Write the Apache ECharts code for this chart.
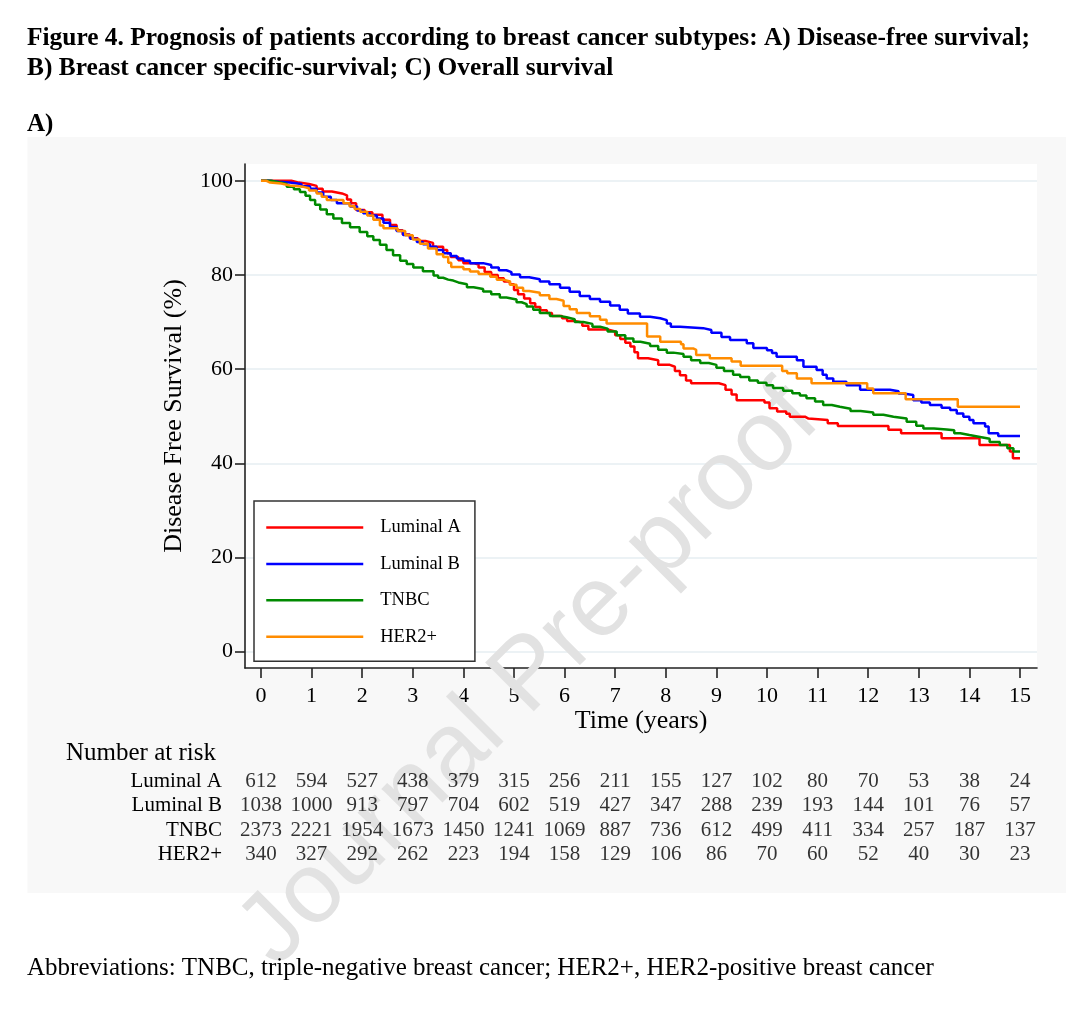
<!DOCTYPE html>
<html>
<head>
<meta charset="utf-8">
<title>Figure 4 - Disease-free survival</title>
<script src="https://cdn.jsdelivr.net/npm/echarts@6/dist/echarts.min.js"></script>
<style>
  html, body { margin: 0; padding: 0; background: #fff; }
  #chart { width: 1080px; height: 1021px; }
</style>
</head>
<body>
<div id="chart"></div>
<script>
// 坐标轴刻度
const xTicks = [0, 1, 2, 3, 4, 5, 6, 7, 8, 9, 10, 11, 12, 13, 14, 15]
const yTicks = [0, 20, 40, 60, 80, 100]

const groups = ['Luminal A', 'Luminal B', 'TNBC', 'HER2+']

// KM曲线 [时间(年), 生存率%]
const luminalA = [
  [0, 100], [0.5, 100], [0.6, 99.6], [0.75, 99.3], [0.95, 98.9], [1.1, 98.3], [1.22, 97.7], [1.4, 97.3],
  [1.6, 96.9], [1.7, 96.0], [1.78, 95.2], [1.88, 93.8], [2.05, 93.3], [2.2, 92.8], [2.4, 91.7], [2.55, 90.6],
  [2.68, 89.5], [2.8, 88.6], [2.94, 87.8], [3.1, 87.2], [3.25, 86.8], [3.4, 86.0], [3.6, 85.3], [3.68, 84.6],
  [3.75, 83.8], [3.9, 83.1], [4.0, 82.5], [4.2, 82.2], [4.3, 81.6], [4.42, 80.6], [4.55, 80.0], [4.68, 79.3],
  [4.8, 78.6], [4.92, 78.0], [5.0, 76.8], [5.08, 75.9], [5.2, 75.0], [5.32, 74.0], [5.42, 73.2], [5.52, 72.5],
  [5.65, 71.9], [5.75, 71.3], [5.95, 70.8], [6.05, 70.2], [6.2, 69.9], [6.35, 69.2], [6.47, 68.4], [6.85, 68.0],
  [7.0, 67.2], [7.1, 66.4], [7.2, 65.6], [7.3, 64.8], [7.38, 63.6], [7.45, 62.3], [7.65, 61.9], [7.85, 60.9],
  [8.08, 60.5], [8.18, 59.6], [8.28, 58.7], [8.4, 57.6], [8.5, 57.0], [9.05, 56.6], [9.18, 55.6], [9.3, 54.6],
  [9.4, 53.4], [9.95, 52.9], [10.05, 51.7], [10.2, 51.0], [10.38, 50.5], [10.45, 49.9], [10.75, 49.5],
  [10.82, 49.2], [11.2, 48.5], [11.4, 47.9], [12.4, 47.1], [12.65, 46.4], [13.45, 45.3], [14.2, 43.9],
  [14.8, 42.5], [14.86, 41.1], [15, 41.1]
]
const luminalB = [
  [0, 100], [0.15, 99.8], [0.35, 99.6], [0.57, 99.3], [0.8, 98.8], [0.97, 98.3], [1.1, 97.5], [1.23, 96.6],
  [1.38, 95.9], [1.5, 95.2], [1.76, 94.5], [1.9, 93.7], [2.02, 93.1], [2.15, 92.6], [2.29, 92.0], [2.42, 91.1],
  [2.55, 90.2], [2.68, 89.3], [2.81, 88.5], [2.95, 87.7], [3.08, 87.0], [3.2, 86.5], [3.34, 86.0], [3.47, 85.3],
  [3.6, 84.6], [3.75, 84.0], [3.87, 83.5], [4.0, 83.0], [4.13, 82.5], [4.39, 82.1], [4.55, 81.6], [4.7, 81.0],
  [4.85, 80.6], [4.95, 80.1], [5.12, 79.5], [5.3, 79.1], [5.51, 78.6], [5.7, 78.0], [5.91, 77.3], [6.1, 76.4],
  [6.3, 75.5], [6.5, 74.9], [6.7, 74.3], [6.9, 73.5], [7.09, 72.6], [7.25, 71.8], [7.49, 71.1], [7.69, 70.8],
  [7.89, 70.4], [8.02, 69.7], [8.1, 69.0], [8.28, 68.7], [8.74, 68.3], [8.9, 67.7], [9.1, 66.8], [9.27, 66.2],
  [9.6, 65.5], [9.73, 64.5], [10.0, 64.0], [10.1, 63.4], [10.19, 62.6], [10.59, 61.9], [10.72, 60.5],
  [10.98, 59.8], [11.1, 58.8], [11.18, 58.0], [11.31, 57.3], [11.57, 56.6], [11.84, 55.6], [12.43, 55.3],
  [12.6, 54.8], [12.69, 54.5], [12.89, 53.4], [13.05, 52.9], [13.22, 52.4], [13.45, 51.8], [13.62, 51.3],
  [13.75, 50.6], [13.88, 49.9], [14.0, 49.2], [14.08, 48.5], [14.31, 47.8], [14.38, 46.4], [14.57, 45.8],
  [15, 45.8]
]
const tnbc = [
  [0, 100], [0.2, 99.7], [0.35, 99.3], [0.51, 98.7], [0.65, 98.2], [0.77, 97.6], [0.88, 96.8], [0.97, 95.9],
  [1.07, 94.9], [1.17, 93.9], [1.3, 92.9], [1.43, 92.0], [1.6, 91.0], [1.76, 90.1], [1.95, 89.1], [2.1, 88.2],
  [2.22, 87.4], [2.35, 86.4], [2.48, 85.3], [2.61, 84.2], [2.75, 83.0], [2.88, 82.3], [3.01, 81.6], [3.2, 80.8],
  [3.41, 79.9], [3.5, 79.4], [3.6, 79.0], [3.7, 78.8], [3.8, 78.4], [3.9, 78.0], [4.07, 77.4], [4.2, 77.0],
  [4.39, 76.5], [4.55, 75.9], [4.72, 75.2], [4.85, 74.8], [5.05, 74.2], [5.15, 73.8], [5.25, 73.3],
  [5.38, 72.6], [5.51, 71.9], [5.71, 71.3], [5.9, 71.0], [6.04, 70.6], [6.2, 70.0], [6.37, 69.6], [6.55, 69.0],
  [6.7, 68.6], [6.85, 68.0], [7.03, 67.2], [7.2, 66.5], [7.36, 65.8], [7.5, 65.4], [7.69, 64.9], [7.85, 64.1],
  [8.02, 63.5], [8.15, 63.2], [8.35, 62.6], [8.5, 61.9], [8.68, 61.3], [8.85, 60.9], [9.0, 60.3], [9.15, 59.6],
  [9.33, 58.8], [9.47, 58.3], [9.65, 57.6], [9.82, 57.1], [9.99, 56.6], [10.12, 56.0], [10.32, 55.4],
  [10.5, 54.9], [10.65, 54.4], [10.78, 53.8], [10.95, 53.1], [11.11, 52.4], [11.28, 52.0], [11.44, 51.6],
  [11.65, 51.1], [11.85, 50.8], [12.1, 50.3], [12.3, 49.9], [12.5, 49.5], [12.76, 48.8], [12.95, 48.0],
  [13.09, 47.4], [13.3, 47.2], [13.55, 47.0], [13.7, 46.4], [13.82, 46.0], [14.0, 45.6], [14.21, 45.2],
  [14.4, 44.5], [14.6, 43.9], [14.75, 43.2], [14.87, 42.5], [15, 42.4]
]
const her2 = [
  [0, 100], [0.1, 99.6], [0.18, 99.4], [0.4, 99.0], [0.57, 98.7], [0.84, 98.4], [0.95, 97.9], [1.1, 97.3],
  [1.2, 96.6], [1.3, 95.9], [1.63, 95.2], [1.75, 94.6], [1.85, 94.0], [1.96, 93.4], [2.1, 92.6], [2.22, 91.7],
  [2.35, 90.5], [2.42, 89.9], [2.7, 89.3], [2.85, 88.4], [3.0, 87.5], [3.14, 86.6], [3.3, 85.6], [3.47, 84.4],
  [3.6, 83.8], [3.7, 82.6], [3.76, 81.7], [4.0, 81.2], [4.13, 80.7], [4.3, 80.2], [4.53, 79.6], [4.66, 79.0],
  [4.79, 78.6], [4.92, 77.9], [5.05, 77.3], [5.18, 76.6], [5.3, 76.2], [5.51, 75.7], [5.7, 74.9], [5.84, 74.5],
  [5.98, 73.4], [6.1, 72.7], [6.24, 71.9], [6.5, 71.2], [6.7, 70.5], [6.83, 69.7], [7.63, 66.9], [7.89, 65.8],
  [8.3, 65.3], [8.35, 64.4], [8.54, 64.1], [8.6, 63.0], [8.87, 62.3], [9.3, 61.6], [9.48, 60.7], [10.3, 59.6],
  [10.4, 59.1], [10.59, 58.0], [10.88, 57.0], [11.98, 55.9], [12.1, 54.9], [12.74, 53.6], [13.77, 52.0],
  [15, 52.0]
]

// 风险人数（每年）
const riskLuminalA = [612, 594, 527, 438, 379, 315, 256, 211, 155, 127, 102, 80, 70, 53, 38, 24]
const riskLuminalB = [1038, 1000, 913, 797, 704, 602, 519, 427, 347, 288, 239, 193, 144, 101, 76, 57]
const riskTNBC = [2373, 2221, 1954, 1673, 1450, 1241, 1069, 887, 736, 612, 499, 411, 334, 257, 187, 137]
const riskHER2 = [340, 327, 292, 262, 223, 194, 158, 129, 106, 86, 70, 60, 52, 40, 30, 23]

const serif = 'Liberation Serif'
const colors = ['#ff0000', '#0000ff', '#008a00', '#ff8c00']

/* 风险表数据 [时间, 分组, 人数] */
function riskPoints() {
  const rows = [riskLuminalA, riskLuminalB, riskTNBC, riskHER2]
  const pts = []
  rows.forEach((row, g) => {
    row.forEach((n, i) => pts.push([xTicks[i], groups[g], n]))
  })
  return pts
}

function kmSeries(name, data, color) {
  return {
    name,
    type: 'line',
    data,
    step: 'end',
    symbol: 'none',
    xAxisIndex: 0,
    yAxisIndex: 0,
    lineStyle: { color, width: 2.5 },
    itemStyle: { color },
    emphasis: { disabled: true },
    z: 3
  }
}

const myChart = echarts.init(document.getElementById('chart'), null, { renderer: 'canvas' })

const option = {
  animation: false,
  backgroundColor: '#ffffff',
  textStyle: { fontFamily: serif, color: '#000' },
  title: [
    {
      text: 'Figure 4. Prognosis of patients according to breast cancer subtypes: A) Disease-free survival;\nB) Breast cancer specific-survival; C) Overall survival',
      left: 27, top: 24, padding: 0,
      textStyle: { fontFamily: serif, fontWeight: 'bold', fontSize: 25.4, lineHeight: 29.3, color: '#000' }
    },
    {
      text: 'A)',
      left: 27, top: 110, padding: 0,
      textStyle: { fontFamily: serif, fontWeight: 'bold', fontSize: 25, lineHeight: 29.3, color: '#000' }
    },
    {
      text: 'Number at risk',
      left: 66, top: 741, padding: 0,
      textStyle: { fontFamily: serif, fontWeight: 'normal', fontSize: 25, lineHeight: 25, color: '#000' }
    },
    {
      text: 'Abbreviations: TNBC, triple-negative breast cancer; HER2+, HER2-positive breast cancer',
      left: 27, top: 956, padding: 0,
      textStyle: { fontFamily: serif, fontWeight: 'normal', fontSize: 25, lineHeight: 24, color: '#000' }
    }
  ],
  legend: {
    data: groups,
    orient: 'vertical',
    left: 254, top: 501,
    padding: [17, 14, 15, 11],
    itemWidth: 97, itemHeight: 14, itemGap: 17.4,
    itemStyle: { opacity: 0 },
    lineStyle: { width: 2.5 },
    backgroundColor: '#ffffff',
    borderColor: '#333', borderWidth: 1.5,
    textStyle: { fontFamily: serif, fontSize: 18.5, color: '#000', padding: [0, 0, 0, 12] },
    selectedMode: false
  },
  graphic: [
    {
      type: 'rect', z: -10, silent: true,
      shape: { x: 27.5, y: 137, width: 1038.5, height: 756 },
      style: { fill: '#f8f8f8' }
    },
    {
      type: 'text', z: 1, silent: true,
      x: 530, y: 676, rotation: Math.PI / 4,
      style: {
        text: 'Journal Pre-proof',
        fontFamily: 'Liberation Sans', fontSize: 100,
        fill: '#e2e2e2', align: 'center', verticalAlign: 'middle'
      }
    }
  ],
  grid: [
    { left: 245, right: 43, top: 164, bottom: 353, backgroundColor: '#ffffff', show: true, borderWidth: 0 },
    { left: 245, right: 43, top: 769, bottom: 154 }
  ],
  xAxis: [
    {
      type: 'value', gridIndex: 0,
      min: -0.316, max: 15.336,
      name: 'Time (years)', nameLocation: 'middle', nameGap: 37.5,
      nameTextStyle: { fontFamily: serif, fontSize: 26, color: '#000' },
      axisLine: { show: true, onZero: false, lineStyle: { color: '#222', width: 1.6 } },
      axisTick: { show: true, length: 10, customValues: xTicks, lineStyle: { color: '#222', width: 1.6 } },
      axisLabel: { customValues: xTicks, margin: 17, fontFamily: serif, fontSize: 22, color: '#000' },
      splitLine: { show: false }
    },
    {
      type: 'value', gridIndex: 1,
      min: -0.316, max: 15.336,
      show: false
    }
  ],
  yAxis: [
    {
      type: 'value', gridIndex: 0,
      min: -3.46, max: 103.55,
      name: 'Disease Free Survival (%)', nameLocation: 'middle', nameGap: 57.5, nameRotate: 90,
      nameTextStyle: { fontFamily: serif, fontSize: 26, color: '#000' },
      axisLine: { show: true, onZero: false, lineStyle: { color: '#222', width: 1.6 } },
      axisTick: { show: true, length: 10, customValues: yTicks, lineStyle: { color: '#222', width: 1.6 } },
      axisLabel: { customValues: yTicks, margin: 12, fontFamily: serif, fontSize: 22, color: '#000' },
      splitLine: { show: true, lineStyle: { color: '#e6eef2', width: 1.5 } }
    },
    {
      type: 'category', gridIndex: 1,
      data: groups, inverse: true,
      axisLine: { show: false }, axisTick: { show: false },
      axisLabel: { interval: 0, margin: 23, fontFamily: serif, fontSize: 21, color: '#000' },
      splitLine: { show: false }
    }
  ],
  series: [
    kmSeries(groups[0], luminalA, colors[0]),
    kmSeries(groups[1], luminalB, colors[1]),
    kmSeries(groups[2], tnbc, colors[2]),
    kmSeries(groups[3], her2, colors[3]),
    {
      name: 'risk',
      type: 'scatter',
      xAxisIndex: 1, yAxisIndex: 1,
      data: riskPoints(),
      symbolSize: 1,
      itemStyle: { color: 'rgba(0,0,0,0)' },
      label: {
        show: true, position: 'inside',
        formatter: p => String(p.value[2]),
        fontFamily: serif, fontSize: 21, color: '#000'
      },
      emphasis: { disabled: true },
      silent: true
    }
  ]
}

myChart.setOption(option)
</script>
</body>
</html>
